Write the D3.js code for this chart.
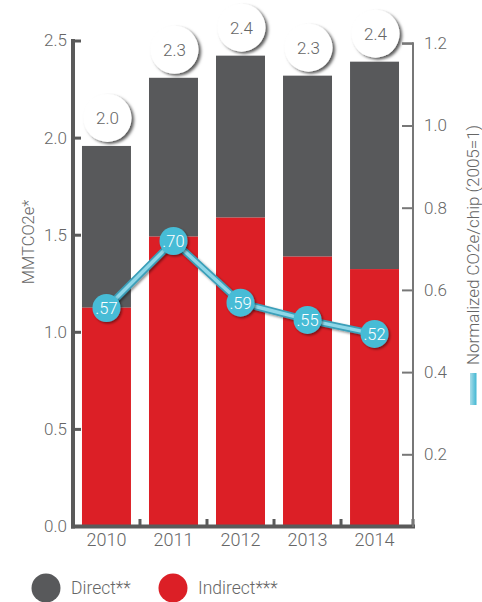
<!DOCTYPE html>
<html>
<head>
<meta charset="utf-8">
<script src="https://cdn.jsdelivr.net/npm/d3@7"></script>
<style>
  html, body { margin: 0; padding: 0; background: #fff; }
  svg text { font-family: Roboto, "Liberation Sans", Arial, sans-serif; font-weight: 300; fill: #666; }
</style>
</head>
<body>
<svg id="chart" width="482" height="602"></svg>
<script>
// ---- data ----
const years = ["2010", "2011", "2012", "2013", "2014"];
const indirect = [1.124, 1.490, 1.588, 1.387, 1.323];
const direct   = [0.833, 0.818, 0.834, 0.932, 1.068];
const totalLabels = ["2.0", "2.3", "2.4", "2.3", "2.4"];
const normalized = [0.556, 0.719, 0.569, 0.527, 0.493];
const normalizedLabels = [".57", ".70", ".59", ".55", ".52"];
const leftTicks = [0.0, 0.5, 1.0, 1.5, 2.0, 2.5];
const rightTicks = [0.2, 0.4, 0.6, 0.8, 1.0, 1.2];
const legendItems = ["Direct**", "Indirect***"];

const colDirect = "#58595b", colIndirect = "#dc1f26";

const svg = d3.select("#chart");
const defs = svg.append("defs");
const f1 = defs.append("filter").attr("id", "shadow").attr("x", "-30%").attr("y", "-30%").attr("width", "170%").attr("height", "170%");
f1.append("feDropShadow").attr("dx", 2.5).attr("dy", 2).attr("stdDeviation", 1.6).attr("flood-color", "#000").attr("flood-opacity", 0.65);
const f2 = defs.append("filter").attr("id", "shadow2").attr("x", "-30%").attr("y", "-30%").attr("width", "170%").attr("height", "170%");
f2.append("feDropShadow").attr("dx", 1.5).attr("dy", 1.5).attr("stdDeviation", 1.2).attr("flood-color", "#000").attr("flood-opacity", 0.45);
const grad = defs.append("linearGradient").attr("id", "swatch").attr("x1", "0").attr("x2", "1");
grad.append("stop").attr("offset", "0").attr("stop-color", "#a9dde9");
grad.append("stop").attr("offset", "1").attr("stop-color", "#41b7d3");

// ---- scales ----
const x = d3.scaleBand().domain(years).range([73, 408]).paddingInner(0.269).paddingOuter(0.134);
const yL = d3.scaleLinear().domain([0, 2.5]).range([526, 40.5]);
const yR = d3.scaleLinear().domain([0, 1.2]).range([536.5, 43.3]);

// ---- bars ----
const stack = years.map((y, i) => ({ year: y, ind: indirect[i], dir: direct[i], total: indirect[i] + direct[i] }));
svg.append("g").selectAll("rect.dir").data(stack).join("rect")
  .attr("x", d => x(d.year)).attr("width", x.bandwidth())
  .attr("y", d => yL(d.total)).attr("height", d => yL(d.ind) - yL(d.total))
  .attr("fill", colDirect);
svg.append("g").selectAll("rect.ind").data(stack).join("rect")
  .attr("x", d => x(d.year)).attr("width", x.bandwidth())
  .attr("y", d => yL(d.ind)).attr("height", d => yL(0) - yL(d.ind))
  .attr("fill", colIndirect);

// ---- total bubbles ----
const tb = svg.append("g").selectAll("g").data(stack).join("g")
  .attr("transform", d => `translate(${x(d.year) + x.bandwidth() / 2 + 1},${yL(d.total) - 28})`);
tb.append("circle").attr("r", 24).attr("fill", "#fff").attr("filter", "url(#shadow)");
tb.append("text").attr("text-anchor", "middle").attr("dy", "0.35em").attr("font-size", 17)
  .text((d, i) => totalLabels[i]);

// ---- left axis ----
const gL = svg.append("g").attr("transform", "translate(73,0)")
  .call(d3.axisLeft(yL).tickValues(leftTicks).tickFormat(d3.format(".1f")).tickSize(-8).tickPadding(6));
gL.select(".domain").remove();
gL.selectAll(".tick line").attr("stroke", "#5a5a5a").attr("stroke-width", 3);
gL.selectAll(".tick text").attr("font-size", 17).attr("fill", "#666").attr("font-family", null);
svg.append("line").attr("x1", 73).attr("x2", 73).attr("y1", yL(2.5) - 1.5).attr("y2", 528.5)
  .attr("stroke", "#5a5a5a").attr("stroke-width", 4);

// ---- bottom axis ----
svg.append("line").attr("x1", 71).attr("x2", 415).attr("y1", 526.5).attr("y2", 526.5)
  .attr("stroke", "#5a5a5a").attr("stroke-width", 4);
const sep = years.slice(1).map((y) => x(y) - (x.step() - x.bandwidth()) / 2);
svg.append("g").selectAll("line").data(sep.concat([413])).join("line")
  .attr("x1", d => d).attr("x2", d => d).attr("y1", 519).attr("y2", 527)
  .attr("stroke", "#5a5a5a").attr("stroke-width", 3);
const gB = svg.append("g").attr("transform", "translate(0,528)")
  .call(d3.axisBottom(x).tickSize(0).tickPadding(5));
gB.select(".domain").remove();
gB.selectAll(".tick text").attr("font-size", 18).attr("fill", "#666").attr("font-family", null);

// ---- right axis ----
const gR = svg.append("g").attr("transform", "translate(413,0)")
  .call(d3.axisRight(yR).tickValues(rightTicks).tickFormat(d3.format(".1f")).tickSize(-11).tickPadding(11));
gR.select(".domain").remove();
gR.selectAll(".tick line").attr("stroke", "#777").attr("stroke-width", 2);
gR.selectAll(".tick text").attr("font-size", 17).attr("fill", "#666").attr("font-family", null);
svg.append("line").attr("x1", 413).attr("x2", 413).attr("y1", yR(1.2) - 1).attr("y2", 527)
  .attr("stroke", "#777").attr("stroke-width", 2);
svg.append("line").attr("x1", 402).attr("x2", 413).attr("y1", yR(1.2)).attr("y2", yR(1.2))
  .attr("stroke", "#777").attr("stroke-width", 2);

// ---- axis titles ----
svg.append("text").attr("transform", "translate(34,242) rotate(-90)").attr("text-anchor", "middle")
  .attr("font-size", 16.5).text("MMTCO2e*");
svg.append("text").attr("transform", "translate(479,245) rotate(-90)").attr("text-anchor", "middle")
  .attr("font-size", 17).text("Normalized CO2e/chip (2005=1)");
svg.append("rect").attr("x", 470).attr("y", 373).attr("width", 6.5).attr("height", 32).attr("fill", "url(#swatch)");

// ---- normalized line ----
const pts = years.map((y, i) => ({ year: y, v: normalized[i], label: normalizedLabels[i] }));
const line = d3.line().x(d => x(d.year) + x.bandwidth() / 2).y(d => yR(d.v));
svg.append("path").datum(pts).attr("d", line).attr("fill", "none")
  .attr("stroke", "#3b9fb9").attr("stroke-width", 7).attr("filter", "url(#shadow2)");
svg.append("path").datum(pts).attr("d", line).attr("fill", "none")
  .attr("stroke", "#8fd7e8").attr("stroke-width", 3.5);
const pg = svg.append("g").selectAll("g").data(pts).join("g")
  .attr("transform", d => `translate(${x(d.year) + x.bandwidth() / 2},${yR(d.v)})`);
pg.append("circle").attr("r", 14).attr("fill", "#47bcd6").attr("filter", "url(#shadow2)");
pg.append("text").attr("text-anchor", "middle").attr("dy", "0.36em").attr("font-size", 16.5)
  .style("fill", "#fff").attr("font-weight", 400).text(d => d.label);

// ---- legend ----
const lg = svg.append("g").selectAll("g").data(legendItems).join("g")
  .attr("transform", (d, i) => `translate(${46 + i * 127},588)`);
lg.append("circle").attr("r", 14.5).attr("fill", (d, i) => i === 0 ? colDirect : colIndirect);
lg.append("text").attr("x", 25).attr("dy", "0.35em").attr("font-size", 17.5).text(d => d);
</script>
</body>
</html>
